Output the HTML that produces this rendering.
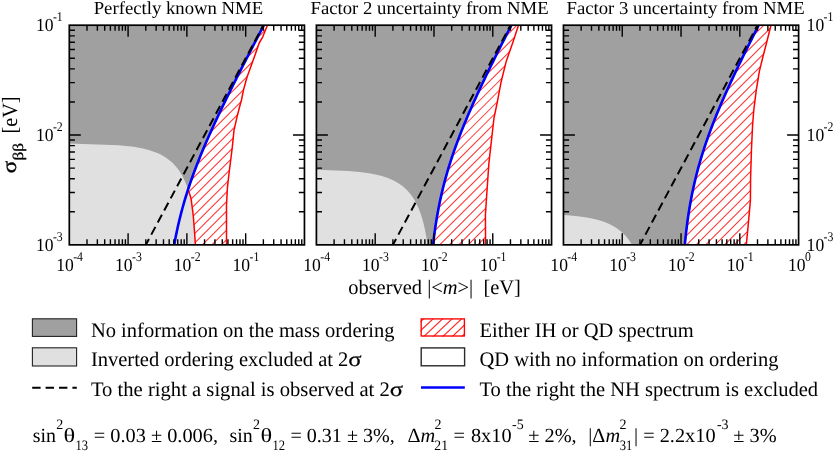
<!DOCTYPE html>
<html><head><meta charset="utf-8"><title>plot</title>
<style>
html,body{margin:0;padding:0;background:#fff;}
body{width:836px;height:452px;overflow:hidden;font-family:"Liberation Serif",serif;}
svg{display:block;text-rendering:geometricPrecision;will-change:transform;font-family:"Liberation Serif",serif;fill:#000;}
</style></head><body>
<svg width="836" height="452" viewBox="0 0 836 452">
<rect width="836" height="452" fill="#fff"/>
<defs>
<clipPath id="c0"><rect x="69.3" y="25.2" width="235.15" height="219.65"/></clipPath>
<clipPath id="c1"><rect x="316.4" y="25.2" width="235.15" height="219.65"/></clipPath>
<clipPath id="c2"><rect x="563.45" y="25.2" width="235.15" height="219.65"/></clipPath>
</defs>
<g clip-path="url(#c0)">
<path d="M69.3 25.2 L263.88 25.2 L261.97 28.86 L260.05 32.52 L258.14 36.18 L256.23 39.84 L254.32 43.5 L252.42 47.16 L250.53 50.83 L248.64 54.49 L246.75 58.15 L244.87 61.81 L243 65.47 L241.13 69.13 L239.27 72.79 L237.42 76.45 L235.57 80.11 L233.74 83.77 L231.91 87.43 L230.09 91.1 L228.29 94.76 L226.49 98.42 L224.71 102.08 L222.94 105.74 L221.18 109.4 L219.44 113.06 L217.71 116.72 L216 120.38 L214.3 124.04 L212.63 127.7 L210.97 131.36 L209.33 135.03 L207.71 138.69 L206.12 142.35 L204.55 146.01 L203 149.67 L201.48 153.33 L199.99 156.99 L198.52 160.65 L197.09 164.31 L195.68 167.97 L194.3 171.63 L192.96 175.29 L191.65 178.96 L190.37 182.62 L189.13 186.28 L187.92 189.94 L186.75 193.6 L185.61 197.26 L184.51 200.92 L183.45 204.58 L182.43 208.24 L181.44 211.9 L180.49 215.56 L179.58 219.22 L178.71 222.88 L177.87 226.55 L177.07 230.21 L176.3 233.87 L175.57 237.53 L174.88 241.19 L174.22 244.85 L69.3 244.85 Z" fill="#a0a0a0"/>
<path d="M69.3 143.49 L69.3 143.49 L118.35 145.18 L133.69 146.87 L142.93 148.56 L149.49 150.25 L154.55 151.94 L158.62 153.62 L162.03 155.31 L164.93 157 L167.45 158.69 L169.67 160.38 L171.64 162.07 L173.41 163.76 L175 165.45 L176.46 167.14 L177.79 168.83 L179 170.52 L180.13 172.21 L181.17 173.9 L182.13 175.59 L183.03 177.28 L183.87 178.97 L184.65 180.65 L185.39 182.34 L186.08 184.03 L186.73 185.72 L187.34 187.41 L187.91 189.1 L191 198 L193.2 215 L194.4 230 L195.4 244.85 L69.3 244.85 Z" fill="#e0e0e0"/>
<clipPath id="r0"><path d="M263.88 25.2 L261.97 28.86 L260.05 32.52 L258.14 36.18 L256.23 39.84 L254.32 43.5 L252.42 47.16 L250.53 50.83 L248.64 54.49 L246.75 58.15 L244.87 61.81 L243 65.47 L241.13 69.13 L239.27 72.79 L237.42 76.45 L235.57 80.11 L233.74 83.77 L231.91 87.43 L230.09 91.1 L228.29 94.76 L226.49 98.42 L224.71 102.08 L222.94 105.74 L221.18 109.4 L219.44 113.06 L217.71 116.72 L216 120.38 L214.3 124.04 L212.63 127.7 L210.97 131.36 L209.33 135.03 L207.71 138.69 L206.12 142.35 L204.55 146.01 L203 149.67 L201.48 153.33 L199.99 156.99 L198.52 160.65 L197.09 164.31 L195.68 167.97 L194.3 171.63 L192.96 175.29 L191.65 178.96 L190.37 182.62 L189.13 186.28 L188.2 189.94 L189.47 193.6 L190.74 197.26 L191.38 200.92 L191.85 204.58 L192.33 208.24 L192.8 211.9 L193.25 215.56 L193.54 219.22 L193.83 222.88 L194.12 226.55 L194.41 230.21 L194.66 233.87 L194.91 237.53 L195.15 241.19 L195.4 244.85 L226.5 244.85 L226.5 205.4 L227.4 187.7 L229.2 172 L232.2 148.1 L234 130.4 L237.2 116.2 L240.4 103.8 L241.5 100 L243.3 90.8 L246.9 77.5 L252.7 61.6 L259.2 43 L262.8 36.8 L267.4 25.2 Z"/></clipPath>
<path d="M263.88 25.2 L261.97 28.86 L260.05 32.52 L258.14 36.18 L256.23 39.84 L254.32 43.5 L252.42 47.16 L250.53 50.83 L248.64 54.49 L246.75 58.15 L244.87 61.81 L243 65.47 L241.13 69.13 L239.27 72.79 L237.42 76.45 L235.57 80.11 L233.74 83.77 L231.91 87.43 L230.09 91.1 L228.29 94.76 L226.49 98.42 L224.71 102.08 L222.94 105.74 L221.18 109.4 L219.44 113.06 L217.71 116.72 L216 120.38 L214.3 124.04 L212.63 127.7 L210.97 131.36 L209.33 135.03 L207.71 138.69 L206.12 142.35 L204.55 146.01 L203 149.67 L201.48 153.33 L199.99 156.99 L198.52 160.65 L197.09 164.31 L195.68 167.97 L194.3 171.63 L192.96 175.29 L191.65 178.96 L190.37 182.62 L189.13 186.28 L188.2 189.94 L189.47 193.6 L190.74 197.26 L191.38 200.92 L191.85 204.58 L192.33 208.24 L192.8 211.9 L193.25 215.56 L193.54 219.22 L193.83 222.88 L194.12 226.55 L194.41 230.21 L194.66 233.87 L194.91 237.53 L195.15 241.19 L195.4 244.85 L226.5 244.85 L226.5 205.4 L227.4 187.7 L229.2 172 L232.2 148.1 L234 130.4 L237.2 116.2 L240.4 103.8 L241.5 100 L243.3 90.8 L246.9 77.5 L252.7 61.6 L259.2 43 L262.8 36.8 L267.4 25.2 Z" fill="#fff"/>
<path d="M69.3 17.09 L304.45 -218.06 M69.3 26.58 L304.45 -208.56 M69.3 36.08 L304.45 -199.07 M69.3 45.58 L304.45 -189.57 M69.3 55.07 L304.45 -180.08 M69.3 64.57 L304.45 -170.58 M69.3 74.06 L304.45 -161.09 M69.3 83.56 L304.45 -151.59 M69.3 93.05 L304.45 -142.1 M69.3 102.55 L304.45 -132.6 M69.3 112.04 L304.45 -123.11 M69.3 121.54 L304.45 -113.61 M69.3 131.03 L304.45 -104.12 M69.3 140.53 L304.45 -94.62 M69.3 150.02 L304.45 -85.13 M69.3 159.51 L304.45 -75.63 M69.3 169.01 L304.45 -66.14 M69.3 178.5 L304.45 -56.64 M69.3 188 L304.45 -47.15 M69.3 197.5 L304.45 -37.65 M69.3 206.99 L304.45 -28.16 M69.3 216.48 L304.45 -18.67 M69.3 225.98 L304.45 -9.17 M69.3 235.47 L304.45 0.32 M69.3 244.97 L304.45 9.82 M69.3 254.46 L304.45 19.31 M69.3 263.96 L304.45 28.81 M69.3 273.45 L304.45 38.31 M69.3 282.95 L304.45 47.8 M69.3 292.44 L304.45 57.3 M69.3 301.94 L304.45 66.79 M69.3 311.44 L304.45 76.29 M69.3 320.93 L304.45 85.78 M69.3 330.43 L304.45 95.28 M69.3 339.92 L304.45 104.77 M69.3 349.41 L304.45 114.26 M69.3 358.91 L304.45 123.76 M69.3 368.4 L304.45 133.25 M69.3 377.9 L304.45 142.75 M69.3 387.39 L304.45 152.25 M69.3 396.89 L304.45 161.74 M69.3 406.38 L304.45 171.24 M69.3 415.88 L304.45 180.73 M69.3 425.37 L304.45 190.22 M69.3 434.87 L304.45 199.72 M69.3 444.36 L304.45 209.21 M69.3 453.86 L304.45 218.71 M69.3 463.35 L304.45 228.2 M69.3 472.85 L304.45 237.7 M69.3 482.34 L304.45 247.19" stroke="#ff0000" stroke-width="1.05" stroke-opacity="0.8" fill="none" clip-path="url(#r0)"/>
<path d="M263.88 25.2 L261.97 28.86 L260.05 32.52 L258.14 36.18 L256.23 39.84 L254.32 43.5 L252.42 47.16 L250.53 50.83 L248.64 54.49 L246.75 58.15 L244.87 61.81 L243 65.47 L241.13 69.13 L239.27 72.79 L237.42 76.45 L235.57 80.11 L233.74 83.77 L231.91 87.43 L230.09 91.1 L228.29 94.76 L226.49 98.42 L224.71 102.08 L222.94 105.74 L221.18 109.4 L219.44 113.06 L217.71 116.72 L216 120.38 L214.3 124.04 L212.63 127.7 L210.97 131.36 L209.33 135.03 L207.71 138.69 L206.12 142.35 L204.55 146.01 L203 149.67 L201.48 153.33 L199.99 156.99 L198.52 160.65 L197.09 164.31 L195.68 167.97 L194.3 171.63 L192.96 175.29 L191.65 178.96 L190.37 182.62 L189.13 186.28 L188.2 189.94 L189.47 193.6 L190.74 197.26 L191.38 200.92 L191.85 204.58 L192.33 208.24 L192.8 211.9 L193.25 215.56 L193.54 219.22 L193.83 222.88 L194.12 226.55 L194.41 230.21 L194.66 233.87 L194.91 237.53 L195.15 241.19 L195.4 244.85 L226.5 244.85 L226.5 205.4 L227.4 187.7 L229.2 172 L232.2 148.1 L234 130.4 L237.2 116.2 L240.4 103.8 L241.5 100 L243.3 90.8 L246.9 77.5 L252.7 61.6 L259.2 43 L262.8 36.8 L267.4 25.2 Z" stroke="#ff0000" stroke-width="1.5" fill="none" stroke-linejoin="round"/>
<path d="M263.88 25.2 L261.97 28.86 L260.05 32.52 L258.14 36.18 L256.23 39.84 L254.32 43.5 L252.42 47.16 L250.53 50.83 L248.64 54.49 L246.75 58.15 L244.87 61.81 L243 65.47 L241.13 69.13 L239.27 72.79 L237.42 76.45 L235.57 80.11 L233.74 83.77 L231.91 87.43 L230.09 91.1 L228.29 94.76 L226.49 98.42 L224.71 102.08 L222.94 105.74 L221.18 109.4 L219.44 113.06 L217.71 116.72 L216 120.38 L214.3 124.04 L212.63 127.7 L210.97 131.36 L209.33 135.03 L207.71 138.69 L206.12 142.35 L204.55 146.01 L203 149.67 L201.48 153.33 L199.99 156.99 L198.52 160.65 L197.09 164.31 L195.68 167.97 L194.3 171.63 L192.96 175.29 L191.65 178.96 L190.37 182.62 L189.13 186.28 L187.92 189.94 L186.75 193.6 L185.61 197.26 L184.51 200.92 L183.45 204.58 L182.43 208.24 L181.44 211.9 L180.49 215.56 L179.58 219.22 L178.71 222.88 L177.87 226.55 L177.07 230.21 L176.3 233.87 L175.57 237.53 L174.88 241.19 L174.22 244.85" stroke="#0000ff" stroke-width="2.6" fill="none"/>
<path d="M145.79 244.85 L263.37 25.2" stroke="#000" stroke-width="2" stroke-dasharray="8.8 4.9" stroke-dashoffset="2.1" fill="none"/>
</g>
<path d="M87 25.2 v5.6 M87 244.85 v-5.6 M97.35 25.2 v5.6 M97.35 244.85 v-5.6 M104.7 25.2 v5.6 M104.7 244.85 v-5.6 M110.39 25.2 v5.6 M110.39 244.85 v-5.6 M115.05 25.2 v5.6 M115.05 244.85 v-5.6 M118.98 25.2 v5.6 M118.98 244.85 v-5.6 M122.39 25.2 v5.6 M122.39 244.85 v-5.6 M125.4 25.2 v5.6 M125.4 244.85 v-5.6 M128.09 25.2 v11.5 M128.09 244.85 v-11.5 M145.79 25.2 v5.6 M145.79 244.85 v-5.6 M156.14 25.2 v5.6 M156.14 244.85 v-5.6 M163.49 25.2 v5.6 M163.49 244.85 v-5.6 M169.18 25.2 v5.6 M169.18 244.85 v-5.6 M173.84 25.2 v5.6 M173.84 244.85 v-5.6 M177.77 25.2 v5.6 M177.77 244.85 v-5.6 M181.18 25.2 v5.6 M181.18 244.85 v-5.6 M184.19 25.2 v5.6 M184.19 244.85 v-5.6 M186.88 25.2 v11.5 M186.88 244.85 v-11.5 M204.58 25.2 v5.6 M204.58 244.85 v-5.6 M214.93 25.2 v5.6 M214.93 244.85 v-5.6 M222.28 25.2 v5.6 M222.28 244.85 v-5.6 M227.97 25.2 v5.6 M227.97 244.85 v-5.6 M232.63 25.2 v5.6 M232.63 244.85 v-5.6 M236.56 25.2 v5.6 M236.56 244.85 v-5.6 M239.97 25.2 v5.6 M239.97 244.85 v-5.6 M242.98 25.2 v5.6 M242.98 244.85 v-5.6 M245.67 25.2 v11.5 M245.67 244.85 v-11.5 M263.37 25.2 v5.6 M263.37 244.85 v-5.6 M273.72 25.2 v5.6 M273.72 244.85 v-5.6 M281.07 25.2 v5.6 M281.07 244.85 v-5.6 M286.76 25.2 v5.6 M286.76 244.85 v-5.6 M291.42 25.2 v5.6 M291.42 244.85 v-5.6 M295.35 25.2 v5.6 M295.35 244.85 v-5.6 M298.76 25.2 v5.6 M298.76 244.85 v-5.6 M301.77 25.2 v5.6 M301.77 244.85 v-5.6 M69.3 211.79 h5.6 M304.45 211.79 h-5.6 M69.3 192.45 h5.6 M304.45 192.45 h-5.6 M69.3 178.73 h5.6 M304.45 178.73 h-5.6 M69.3 168.08 h5.6 M304.45 168.08 h-5.6 M69.3 159.39 h5.6 M304.45 159.39 h-5.6 M69.3 152.03 h5.6 M304.45 152.03 h-5.6 M69.3 145.66 h5.6 M304.45 145.66 h-5.6 M69.3 140.05 h5.6 M304.45 140.05 h-5.6 M69.3 135.02 h11.5 M304.45 135.02 h-11.5 M69.3 101.96 h5.6 M304.45 101.96 h-5.6 M69.3 82.62 h5.6 M304.45 82.62 h-5.6 M69.3 68.9 h5.6 M304.45 68.9 h-5.6 M69.3 58.25 h5.6 M304.45 58.25 h-5.6 M69.3 49.56 h5.6 M304.45 49.56 h-5.6 M69.3 42.2 h5.6 M304.45 42.2 h-5.6 M69.3 35.83 h5.6 M304.45 35.83 h-5.6 M69.3 30.22 h5.6 M304.45 30.22 h-5.6" stroke="#000" stroke-width="1.4" fill="none"/>
<rect x="69.3" y="25.2" width="235.15" height="219.65" fill="none" stroke="#000" stroke-width="1.7"/>
<g clip-path="url(#c1)">
<path d="M316.4 25.2 L511.43 25.2 L509.54 28.86 L507.66 32.52 L505.79 36.18 L503.92 39.84 L502.06 43.5 L500.21 47.16 L498.37 50.83 L496.53 54.49 L494.71 58.15 L492.89 61.81 L491.09 65.47 L489.29 69.13 L487.51 72.79 L485.74 76.45 L483.99 80.11 L482.25 83.77 L480.52 87.43 L478.81 91.1 L477.12 94.76 L475.45 98.42 L473.79 102.08 L472.16 105.74 L470.55 109.4 L468.96 113.06 L467.39 116.72 L465.85 120.38 L464.33 124.04 L462.84 127.7 L461.38 131.36 L459.95 135.03 L458.55 138.69 L457.18 142.35 L455.84 146.01 L454.53 149.67 L453.26 153.33 L452.02 156.99 L450.82 160.65 L449.65 164.31 L448.52 167.97 L447.43 171.63 L446.37 175.29 L445.36 178.96 L444.37 182.62 L443.43 186.28 L442.53 189.94 L441.66 193.6 L440.83 197.26 L440.03 200.92 L439.27 204.58 L438.55 208.24 L437.86 211.9 L437.21 215.56 L436.58 219.22 L435.99 222.88 L435.43 226.55 L434.91 230.21 L434.41 233.87 L433.93 237.53 L433.49 241.19 L433.07 244.85 L316.4 244.85 Z" fill="#a0a0a0"/>
<path d="M316.4 169.69 L316.4 169.69 L348.43 170.95 L361.92 172.2 L370.51 173.45 L376.78 174.7 L381.69 175.96 L385.71 177.21 L389.09 178.46 L392.01 179.71 L394.56 180.97 L396.82 182.22 L398.85 183.47 L400.68 184.72 L402.35 185.98 L403.87 187.23 L405.27 188.48 L406.57 189.73 L407.77 190.99 L408.89 192.24 L409.93 193.49 L410.91 194.75 L411.83 196 L412.69 197.25 L413.5 198.5 L414.27 199.76 L415 201.01 L415.69 202.26 L416.34 203.51 L416.96 204.77 L417.55 206.02 L418.11 207.27 L418.65 208.52 L419.16 209.78 L419.65 211.03 L420.12 212.28 L420.56 213.53 L420.99 214.79 L421.4 216.04 L421.8 217.29 L422.17 218.54 L422.54 219.8 L422.88 221.05 L423.22 222.3 L423.54 223.56 L423.85 224.81 L424.15 226.06 L424.43 227.31 L424.71 228.57 L424.98 229.82 L425.23 231.07 L425.48 232.32 L425.72 233.58 L425.95 234.83 L426.17 236.08 L426.39 237.33 L426.6 238.59 L426.8 239.84 L426.99 241.09 L427.18 242.34 L427.36 243.6 L427.54 244.85 L316.4 244.85 Z" fill="#e0e0e0"/>
<clipPath id="r1"><path d="M511.43 25.2 L509.54 28.86 L507.66 32.52 L505.79 36.18 L503.92 39.84 L502.06 43.5 L500.21 47.16 L498.37 50.83 L496.53 54.49 L494.71 58.15 L492.89 61.81 L491.09 65.47 L489.29 69.13 L487.51 72.79 L485.74 76.45 L483.99 80.11 L482.25 83.77 L480.52 87.43 L478.81 91.1 L477.12 94.76 L475.45 98.42 L473.79 102.08 L472.16 105.74 L470.55 109.4 L468.96 113.06 L467.39 116.72 L465.85 120.38 L464.33 124.04 L462.84 127.7 L461.38 131.36 L459.95 135.03 L458.55 138.69 L457.18 142.35 L455.84 146.01 L454.53 149.67 L453.26 153.33 L452.02 156.99 L450.82 160.65 L449.65 164.31 L448.52 167.97 L447.43 171.63 L446.37 175.29 L445.36 178.96 L444.37 182.62 L443.43 186.28 L442.53 189.94 L441.66 193.6 L440.83 197.26 L440.03 200.92 L439.27 204.58 L438.55 208.24 L437.86 211.9 L437.21 215.56 L436.58 219.22 L435.99 222.88 L435.43 226.55 L434.91 230.21 L434.41 233.87 L433.93 237.53 L433.49 241.19 L433.07 244.85 L485.6 244.85 L485.4 215 L486.9 192 L488.9 163.2 L491.8 137.3 L494 118 L497.2 102.7 L500.8 83.3 L506.2 61.4 L513 41.9 L518.5 25.2 Z"/></clipPath>
<path d="M511.43 25.2 L509.54 28.86 L507.66 32.52 L505.79 36.18 L503.92 39.84 L502.06 43.5 L500.21 47.16 L498.37 50.83 L496.53 54.49 L494.71 58.15 L492.89 61.81 L491.09 65.47 L489.29 69.13 L487.51 72.79 L485.74 76.45 L483.99 80.11 L482.25 83.77 L480.52 87.43 L478.81 91.1 L477.12 94.76 L475.45 98.42 L473.79 102.08 L472.16 105.74 L470.55 109.4 L468.96 113.06 L467.39 116.72 L465.85 120.38 L464.33 124.04 L462.84 127.7 L461.38 131.36 L459.95 135.03 L458.55 138.69 L457.18 142.35 L455.84 146.01 L454.53 149.67 L453.26 153.33 L452.02 156.99 L450.82 160.65 L449.65 164.31 L448.52 167.97 L447.43 171.63 L446.37 175.29 L445.36 178.96 L444.37 182.62 L443.43 186.28 L442.53 189.94 L441.66 193.6 L440.83 197.26 L440.03 200.92 L439.27 204.58 L438.55 208.24 L437.86 211.9 L437.21 215.56 L436.58 219.22 L435.99 222.88 L435.43 226.55 L434.91 230.21 L434.41 233.87 L433.93 237.53 L433.49 241.19 L433.07 244.85 L485.6 244.85 L485.4 215 L486.9 192 L488.9 163.2 L491.8 137.3 L494 118 L497.2 102.7 L500.8 83.3 L506.2 61.4 L513 41.9 L518.5 25.2 Z" fill="#fff"/>
<path d="M316.4 16.86 L551.55 -218.29 M316.4 26.36 L551.55 -208.79 M316.4 35.85 L551.55 -199.3 M316.4 45.35 L551.55 -189.8 M316.4 54.84 L551.55 -180.31 M316.4 64.34 L551.55 -170.81 M316.4 73.83 L551.55 -161.32 M316.4 83.33 L551.55 -151.82 M316.4 92.82 L551.55 -142.33 M316.4 102.31 L551.55 -132.83 M316.4 111.81 L551.55 -123.34 M316.4 121.31 L551.55 -113.84 M316.4 130.8 L551.55 -104.35 M316.4 140.3 L551.55 -94.85 M316.4 149.79 L551.55 -85.36 M316.4 159.29 L551.55 -75.86 M316.4 168.78 L551.55 -66.37 M316.4 178.27 L551.55 -56.88 M316.4 187.77 L551.55 -47.38 M316.4 197.26 L551.55 -37.88 M316.4 206.76 L551.55 -28.39 M316.4 216.25 L551.55 -18.89 M316.4 225.75 L551.55 -9.4 M316.4 235.25 L551.55 0.1 M316.4 244.74 L551.55 9.59 M316.4 254.24 L551.55 19.09 M316.4 263.73 L551.55 28.58 M316.4 273.23 L551.55 38.08 M316.4 282.72 L551.55 47.57 M316.4 292.22 L551.55 57.07 M316.4 301.71 L551.55 66.56 M316.4 311.21 L551.55 76.06 M316.4 320.7 L551.55 85.55 M316.4 330.2 L551.55 95.05 M316.4 339.69 L551.55 104.54 M316.4 349.19 L551.55 114.04 M316.4 358.68 L551.55 123.53 M316.4 368.17 L551.55 133.02 M316.4 377.67 L551.55 142.52 M316.4 387.16 L551.55 152.01 M316.4 396.66 L551.55 161.51 M316.4 406.15 L551.55 171 M316.4 415.65 L551.55 180.5 M316.4 425.14 L551.55 190 M316.4 434.64 L551.55 199.49 M316.4 444.13 L551.55 208.99 M316.4 453.63 L551.55 218.48 M316.4 463.12 L551.55 227.98 M316.4 472.62 L551.55 237.47 M316.4 482.12 L551.55 246.97" stroke="#ff0000" stroke-width="1.05" stroke-opacity="0.8" fill="none" clip-path="url(#r1)"/>
<path d="M511.43 25.2 L509.54 28.86 L507.66 32.52 L505.79 36.18 L503.92 39.84 L502.06 43.5 L500.21 47.16 L498.37 50.83 L496.53 54.49 L494.71 58.15 L492.89 61.81 L491.09 65.47 L489.29 69.13 L487.51 72.79 L485.74 76.45 L483.99 80.11 L482.25 83.77 L480.52 87.43 L478.81 91.1 L477.12 94.76 L475.45 98.42 L473.79 102.08 L472.16 105.74 L470.55 109.4 L468.96 113.06 L467.39 116.72 L465.85 120.38 L464.33 124.04 L462.84 127.7 L461.38 131.36 L459.95 135.03 L458.55 138.69 L457.18 142.35 L455.84 146.01 L454.53 149.67 L453.26 153.33 L452.02 156.99 L450.82 160.65 L449.65 164.31 L448.52 167.97 L447.43 171.63 L446.37 175.29 L445.36 178.96 L444.37 182.62 L443.43 186.28 L442.53 189.94 L441.66 193.6 L440.83 197.26 L440.03 200.92 L439.27 204.58 L438.55 208.24 L437.86 211.9 L437.21 215.56 L436.58 219.22 L435.99 222.88 L435.43 226.55 L434.91 230.21 L434.41 233.87 L433.93 237.53 L433.49 241.19 L433.07 244.85 L485.6 244.85 L485.4 215 L486.9 192 L488.9 163.2 L491.8 137.3 L494 118 L497.2 102.7 L500.8 83.3 L506.2 61.4 L513 41.9 L518.5 25.2 Z" stroke="#ff0000" stroke-width="1.5" fill="none" stroke-linejoin="round"/>
<path d="M511.43 25.2 L509.54 28.86 L507.66 32.52 L505.79 36.18 L503.92 39.84 L502.06 43.5 L500.21 47.16 L498.37 50.83 L496.53 54.49 L494.71 58.15 L492.89 61.81 L491.09 65.47 L489.29 69.13 L487.51 72.79 L485.74 76.45 L483.99 80.11 L482.25 83.77 L480.52 87.43 L478.81 91.1 L477.12 94.76 L475.45 98.42 L473.79 102.08 L472.16 105.74 L470.55 109.4 L468.96 113.06 L467.39 116.72 L465.85 120.38 L464.33 124.04 L462.84 127.7 L461.38 131.36 L459.95 135.03 L458.55 138.69 L457.18 142.35 L455.84 146.01 L454.53 149.67 L453.26 153.33 L452.02 156.99 L450.82 160.65 L449.65 164.31 L448.52 167.97 L447.43 171.63 L446.37 175.29 L445.36 178.96 L444.37 182.62 L443.43 186.28 L442.53 189.94 L441.66 193.6 L440.83 197.26 L440.03 200.92 L439.27 204.58 L438.55 208.24 L437.86 211.9 L437.21 215.56 L436.58 219.22 L435.99 222.88 L435.43 226.55 L434.91 230.21 L434.41 233.87 L433.93 237.53 L433.49 241.19 L433.07 244.85" stroke="#0000ff" stroke-width="2.6" fill="none"/>
<path d="M392.89 244.85 L510.47 25.2" stroke="#000" stroke-width="2" stroke-dasharray="8.8 4.9" stroke-dashoffset="2.1" fill="none"/>
</g>
<path d="M334.1 25.2 v5.6 M334.1 244.85 v-5.6 M344.45 25.2 v5.6 M344.45 244.85 v-5.6 M351.8 25.2 v5.6 M351.8 244.85 v-5.6 M357.49 25.2 v5.6 M357.49 244.85 v-5.6 M362.15 25.2 v5.6 M362.15 244.85 v-5.6 M366.08 25.2 v5.6 M366.08 244.85 v-5.6 M369.49 25.2 v5.6 M369.49 244.85 v-5.6 M372.5 25.2 v5.6 M372.5 244.85 v-5.6 M375.19 25.2 v11.5 M375.19 244.85 v-11.5 M392.89 25.2 v5.6 M392.89 244.85 v-5.6 M403.24 25.2 v5.6 M403.24 244.85 v-5.6 M410.59 25.2 v5.6 M410.59 244.85 v-5.6 M416.28 25.2 v5.6 M416.28 244.85 v-5.6 M420.94 25.2 v5.6 M420.94 244.85 v-5.6 M424.87 25.2 v5.6 M424.87 244.85 v-5.6 M428.28 25.2 v5.6 M428.28 244.85 v-5.6 M431.29 25.2 v5.6 M431.29 244.85 v-5.6 M433.98 25.2 v11.5 M433.98 244.85 v-11.5 M451.68 25.2 v5.6 M451.68 244.85 v-5.6 M462.03 25.2 v5.6 M462.03 244.85 v-5.6 M469.38 25.2 v5.6 M469.38 244.85 v-5.6 M475.07 25.2 v5.6 M475.07 244.85 v-5.6 M479.73 25.2 v5.6 M479.73 244.85 v-5.6 M483.66 25.2 v5.6 M483.66 244.85 v-5.6 M487.07 25.2 v5.6 M487.07 244.85 v-5.6 M490.08 25.2 v5.6 M490.08 244.85 v-5.6 M492.77 25.2 v11.5 M492.77 244.85 v-11.5 M510.47 25.2 v5.6 M510.47 244.85 v-5.6 M520.82 25.2 v5.6 M520.82 244.85 v-5.6 M528.17 25.2 v5.6 M528.17 244.85 v-5.6 M533.86 25.2 v5.6 M533.86 244.85 v-5.6 M538.52 25.2 v5.6 M538.52 244.85 v-5.6 M542.45 25.2 v5.6 M542.45 244.85 v-5.6 M545.86 25.2 v5.6 M545.86 244.85 v-5.6 M548.87 25.2 v5.6 M548.87 244.85 v-5.6 M316.4 211.79 h5.6 M551.55 211.79 h-5.6 M316.4 192.45 h5.6 M551.55 192.45 h-5.6 M316.4 178.73 h5.6 M551.55 178.73 h-5.6 M316.4 168.08 h5.6 M551.55 168.08 h-5.6 M316.4 159.39 h5.6 M551.55 159.39 h-5.6 M316.4 152.03 h5.6 M551.55 152.03 h-5.6 M316.4 145.66 h5.6 M551.55 145.66 h-5.6 M316.4 140.05 h5.6 M551.55 140.05 h-5.6 M316.4 135.02 h11.5 M551.55 135.02 h-11.5 M316.4 101.96 h5.6 M551.55 101.96 h-5.6 M316.4 82.62 h5.6 M551.55 82.62 h-5.6 M316.4 68.9 h5.6 M551.55 68.9 h-5.6 M316.4 58.25 h5.6 M551.55 58.25 h-5.6 M316.4 49.56 h5.6 M551.55 49.56 h-5.6 M316.4 42.2 h5.6 M551.55 42.2 h-5.6 M316.4 35.83 h5.6 M551.55 35.83 h-5.6 M316.4 30.22 h5.6 M551.55 30.22 h-5.6" stroke="#000" stroke-width="1.4" fill="none"/>
<rect x="316.4" y="25.2" width="235.15" height="219.65" fill="none" stroke="#000" stroke-width="1.7"/>
<g clip-path="url(#c2)">
<path d="M563.45 25.2 L758.71 25.2 L756.85 28.86 L754.99 32.52 L753.14 36.18 L751.29 39.84 L749.46 43.5 L747.63 47.16 L745.82 50.83 L744.01 54.49 L742.22 58.15 L740.43 61.81 L738.66 65.47 L736.91 69.13 L735.17 72.79 L733.44 76.45 L731.73 80.11 L730.04 83.77 L728.36 87.43 L726.71 91.1 L725.07 94.76 L723.46 98.42 L721.87 102.08 L720.3 105.74 L718.76 109.4 L717.24 113.06 L715.75 116.72 L714.29 120.38 L712.86 124.04 L711.45 127.7 L710.08 131.36 L708.74 135.03 L707.43 138.69 L706.16 142.35 L704.92 146.01 L703.72 149.67 L702.55 153.33 L701.42 156.99 L700.32 160.65 L699.26 164.31 L698.24 167.97 L697.26 171.63 L696.32 175.29 L695.41 178.96 L694.54 182.62 L693.71 186.28 L692.91 189.94 L692.15 193.6 L691.43 197.26 L690.74 200.92 L690.08 204.58 L689.46 208.24 L688.86 211.9 L688.3 215.56 L687.77 219.22 L687.27 222.88 L686.8 226.55 L686.36 230.21 L685.94 233.87 L685.54 237.53 L685.17 241.19 L684.82 244.85 L563.45 244.85 Z" fill="#a0a0a0"/>
<path d="M563.45 214.93 L563.45 214.93 L570.22 215.43 L575.52 215.92 L579.86 216.42 L583.53 216.92 L586.71 217.42 L589.51 217.92 L592.01 218.42 L594.26 218.92 L596.31 219.42 L598.19 219.91 L599.92 220.41 L601.53 220.91 L603.02 221.41 L604.42 221.91 L605.73 222.41 L606.97 222.91 L608.13 223.41 L609.24 223.9 L610.28 224.4 L611.28 224.9 L612.23 225.4 L613.13 225.9 L614 226.4 L614.83 226.9 L615.62 227.4 L616.38 227.89 L617.12 228.39 L617.82 228.89 L618.5 229.39 L619.15 229.89 L619.79 230.39 L620.4 230.89 L620.99 231.38 L621.56 231.88 L622.11 232.38 L622.64 232.88 L623.16 233.38 L623.66 233.88 L624.15 234.38 L624.63 234.88 L625.09 235.37 L625.54 235.87 L625.97 236.37 L626.4 236.87 L626.81 237.37 L627.21 237.87 L627.6 238.37 L627.98 238.87 L628.35 239.36 L628.72 239.86 L629.07 240.36 L629.42 240.86 L629.76 241.36 L630.09 241.86 L630.41 242.36 L630.72 242.86 L631.03 243.35 L631.33 243.85 L631.63 244.35 L631.91 244.85 L563.45 244.85 Z" fill="#e0e0e0"/>
<clipPath id="r2"><path d="M758.71 25.2 L756.85 28.86 L754.99 32.52 L753.14 36.18 L751.29 39.84 L749.46 43.5 L747.63 47.16 L745.82 50.83 L744.01 54.49 L742.22 58.15 L740.43 61.81 L738.66 65.47 L736.91 69.13 L735.17 72.79 L733.44 76.45 L731.73 80.11 L730.04 83.77 L728.36 87.43 L726.71 91.1 L725.07 94.76 L723.46 98.42 L721.87 102.08 L720.3 105.74 L718.76 109.4 L717.24 113.06 L715.75 116.72 L714.29 120.38 L712.86 124.04 L711.45 127.7 L710.08 131.36 L708.74 135.03 L707.43 138.69 L706.16 142.35 L704.92 146.01 L703.72 149.67 L702.55 153.33 L701.42 156.99 L700.32 160.65 L699.26 164.31 L698.24 167.97 L697.26 171.63 L696.32 175.29 L695.41 178.96 L694.54 182.62 L693.71 186.28 L692.91 189.94 L692.15 193.6 L691.43 197.26 L690.74 200.92 L690.08 204.58 L689.46 208.24 L688.86 211.9 L688.3 215.56 L687.77 219.22 L687.27 222.88 L686.8 226.55 L686.36 230.21 L685.94 233.87 L685.54 237.53 L685.17 241.19 L684.82 244.85 L746.3 244.85 L747.8 229.4 L750.4 200.6 L750.6 177.6 L751.5 148.8 L752.6 125 L753.8 110 L756.2 90.6 L759.4 71.1 L763 56.5 L767.4 39.5 L771 25.2 Z"/></clipPath>
<path d="M758.71 25.2 L756.85 28.86 L754.99 32.52 L753.14 36.18 L751.29 39.84 L749.46 43.5 L747.63 47.16 L745.82 50.83 L744.01 54.49 L742.22 58.15 L740.43 61.81 L738.66 65.47 L736.91 69.13 L735.17 72.79 L733.44 76.45 L731.73 80.11 L730.04 83.77 L728.36 87.43 L726.71 91.1 L725.07 94.76 L723.46 98.42 L721.87 102.08 L720.3 105.74 L718.76 109.4 L717.24 113.06 L715.75 116.72 L714.29 120.38 L712.86 124.04 L711.45 127.7 L710.08 131.36 L708.74 135.03 L707.43 138.69 L706.16 142.35 L704.92 146.01 L703.72 149.67 L702.55 153.33 L701.42 156.99 L700.32 160.65 L699.26 164.31 L698.24 167.97 L697.26 171.63 L696.32 175.29 L695.41 178.96 L694.54 182.62 L693.71 186.28 L692.91 189.94 L692.15 193.6 L691.43 197.26 L690.74 200.92 L690.08 204.58 L689.46 208.24 L688.86 211.9 L688.3 215.56 L687.77 219.22 L687.27 222.88 L686.8 226.55 L686.36 230.21 L685.94 233.87 L685.54 237.53 L685.17 241.19 L684.82 244.85 L746.3 244.85 L747.8 229.4 L750.4 200.6 L750.6 177.6 L751.5 148.8 L752.6 125 L753.8 110 L756.2 90.6 L759.4 71.1 L763 56.5 L767.4 39.5 L771 25.2 Z" fill="#fff"/>
<path d="M563.45 7.18 L798.6 -227.97 M563.45 16.68 L798.6 -218.47 M563.45 26.17 L798.6 -208.98 M563.45 35.67 L798.6 -199.48 M563.45 45.16 L798.6 -189.99 M563.45 54.66 L798.6 -180.49 M563.45 64.15 L798.6 -171 M563.45 73.65 L798.6 -161.5 M563.45 83.14 L798.6 -152 M563.45 92.64 L798.6 -142.51 M563.45 102.13 L798.6 -133.01 M563.45 111.63 L798.6 -123.52 M563.45 121.12 L798.6 -114.03 M563.45 130.62 L798.6 -104.53 M563.45 140.11 L798.6 -95.04 M563.45 149.61 L798.6 -85.54 M563.45 159.1 L798.6 -76.05 M563.45 168.6 L798.6 -66.55 M563.45 178.09 L798.6 -57.06 M563.45 187.59 L798.6 -47.56 M563.45 197.08 L798.6 -38.07 M563.45 206.58 L798.6 -28.57 M563.45 216.07 L798.6 -19.08 M563.45 225.57 L798.6 -9.58 M563.45 235.06 L798.6 -0.09 M563.45 244.56 L798.6 9.41 M563.45 254.05 L798.6 18.9 M563.45 263.55 L798.6 28.4 M563.45 273.04 L798.6 37.89 M563.45 282.54 L798.6 47.39 M563.45 292.03 L798.6 56.88 M563.45 301.53 L798.6 66.38 M563.45 311.02 L798.6 75.87 M563.45 320.52 L798.6 85.37 M563.45 330.01 L798.6 94.86 M563.45 339.51 L798.6 104.36 M563.45 349 L798.6 113.85 M563.45 358.5 L798.6 123.35 M563.45 367.99 L798.6 132.84 M563.45 377.49 L798.6 142.34 M563.45 386.98 L798.6 151.83 M563.45 396.48 L798.6 161.33 M563.45 405.97 L798.6 170.82 M563.45 415.47 L798.6 180.32 M563.45 424.96 L798.6 189.81 M563.45 434.46 L798.6 199.31 M563.45 443.95 L798.6 208.8 M563.45 453.45 L798.6 218.3 M563.45 462.94 L798.6 227.79 M563.45 472.44 L798.6 237.29 M563.45 481.93 L798.6 246.78" stroke="#ff0000" stroke-width="1.05" stroke-opacity="0.8" fill="none" clip-path="url(#r2)"/>
<path d="M758.71 25.2 L756.85 28.86 L754.99 32.52 L753.14 36.18 L751.29 39.84 L749.46 43.5 L747.63 47.16 L745.82 50.83 L744.01 54.49 L742.22 58.15 L740.43 61.81 L738.66 65.47 L736.91 69.13 L735.17 72.79 L733.44 76.45 L731.73 80.11 L730.04 83.77 L728.36 87.43 L726.71 91.1 L725.07 94.76 L723.46 98.42 L721.87 102.08 L720.3 105.74 L718.76 109.4 L717.24 113.06 L715.75 116.72 L714.29 120.38 L712.86 124.04 L711.45 127.7 L710.08 131.36 L708.74 135.03 L707.43 138.69 L706.16 142.35 L704.92 146.01 L703.72 149.67 L702.55 153.33 L701.42 156.99 L700.32 160.65 L699.26 164.31 L698.24 167.97 L697.26 171.63 L696.32 175.29 L695.41 178.96 L694.54 182.62 L693.71 186.28 L692.91 189.94 L692.15 193.6 L691.43 197.26 L690.74 200.92 L690.08 204.58 L689.46 208.24 L688.86 211.9 L688.3 215.56 L687.77 219.22 L687.27 222.88 L686.8 226.55 L686.36 230.21 L685.94 233.87 L685.54 237.53 L685.17 241.19 L684.82 244.85 L746.3 244.85 L747.8 229.4 L750.4 200.6 L750.6 177.6 L751.5 148.8 L752.6 125 L753.8 110 L756.2 90.6 L759.4 71.1 L763 56.5 L767.4 39.5 L771 25.2 Z" stroke="#ff0000" stroke-width="1.5" fill="none" stroke-linejoin="round"/>
<path d="M758.71 25.2 L756.85 28.86 L754.99 32.52 L753.14 36.18 L751.29 39.84 L749.46 43.5 L747.63 47.16 L745.82 50.83 L744.01 54.49 L742.22 58.15 L740.43 61.81 L738.66 65.47 L736.91 69.13 L735.17 72.79 L733.44 76.45 L731.73 80.11 L730.04 83.77 L728.36 87.43 L726.71 91.1 L725.07 94.76 L723.46 98.42 L721.87 102.08 L720.3 105.74 L718.76 109.4 L717.24 113.06 L715.75 116.72 L714.29 120.38 L712.86 124.04 L711.45 127.7 L710.08 131.36 L708.74 135.03 L707.43 138.69 L706.16 142.35 L704.92 146.01 L703.72 149.67 L702.55 153.33 L701.42 156.99 L700.32 160.65 L699.26 164.31 L698.24 167.97 L697.26 171.63 L696.32 175.29 L695.41 178.96 L694.54 182.62 L693.71 186.28 L692.91 189.94 L692.15 193.6 L691.43 197.26 L690.74 200.92 L690.08 204.58 L689.46 208.24 L688.86 211.9 L688.3 215.56 L687.77 219.22 L687.27 222.88 L686.8 226.55 L686.36 230.21 L685.94 233.87 L685.54 237.53 L685.17 241.19 L684.82 244.85" stroke="#0000ff" stroke-width="2.6" fill="none"/>
<path d="M639.94 244.85 L757.52 25.2" stroke="#000" stroke-width="2" stroke-dasharray="8.8 4.9" stroke-dashoffset="2.1" fill="none"/>
</g>
<path d="M581.15 25.2 v5.6 M581.15 244.85 v-5.6 M591.5 25.2 v5.6 M591.5 244.85 v-5.6 M598.85 25.2 v5.6 M598.85 244.85 v-5.6 M604.54 25.2 v5.6 M604.54 244.85 v-5.6 M609.2 25.2 v5.6 M609.2 244.85 v-5.6 M613.13 25.2 v5.6 M613.13 244.85 v-5.6 M616.54 25.2 v5.6 M616.54 244.85 v-5.6 M619.55 25.2 v5.6 M619.55 244.85 v-5.6 M622.24 25.2 v11.5 M622.24 244.85 v-11.5 M639.94 25.2 v5.6 M639.94 244.85 v-5.6 M650.29 25.2 v5.6 M650.29 244.85 v-5.6 M657.64 25.2 v5.6 M657.64 244.85 v-5.6 M663.33 25.2 v5.6 M663.33 244.85 v-5.6 M667.99 25.2 v5.6 M667.99 244.85 v-5.6 M671.92 25.2 v5.6 M671.92 244.85 v-5.6 M675.33 25.2 v5.6 M675.33 244.85 v-5.6 M678.34 25.2 v5.6 M678.34 244.85 v-5.6 M681.03 25.2 v11.5 M681.03 244.85 v-11.5 M698.73 25.2 v5.6 M698.73 244.85 v-5.6 M709.08 25.2 v5.6 M709.08 244.85 v-5.6 M716.43 25.2 v5.6 M716.43 244.85 v-5.6 M722.12 25.2 v5.6 M722.12 244.85 v-5.6 M726.78 25.2 v5.6 M726.78 244.85 v-5.6 M730.71 25.2 v5.6 M730.71 244.85 v-5.6 M734.12 25.2 v5.6 M734.12 244.85 v-5.6 M737.13 25.2 v5.6 M737.13 244.85 v-5.6 M739.82 25.2 v11.5 M739.82 244.85 v-11.5 M757.52 25.2 v5.6 M757.52 244.85 v-5.6 M767.87 25.2 v5.6 M767.87 244.85 v-5.6 M775.22 25.2 v5.6 M775.22 244.85 v-5.6 M780.91 25.2 v5.6 M780.91 244.85 v-5.6 M785.57 25.2 v5.6 M785.57 244.85 v-5.6 M789.5 25.2 v5.6 M789.5 244.85 v-5.6 M792.91 25.2 v5.6 M792.91 244.85 v-5.6 M795.92 25.2 v5.6 M795.92 244.85 v-5.6 M563.45 211.79 h5.6 M798.6 211.79 h-5.6 M563.45 192.45 h5.6 M798.6 192.45 h-5.6 M563.45 178.73 h5.6 M798.6 178.73 h-5.6 M563.45 168.08 h5.6 M798.6 168.08 h-5.6 M563.45 159.39 h5.6 M798.6 159.39 h-5.6 M563.45 152.03 h5.6 M798.6 152.03 h-5.6 M563.45 145.66 h5.6 M798.6 145.66 h-5.6 M563.45 140.05 h5.6 M798.6 140.05 h-5.6 M563.45 135.02 h11.5 M798.6 135.02 h-11.5 M563.45 101.96 h5.6 M798.6 101.96 h-5.6 M563.45 82.62 h5.6 M798.6 82.62 h-5.6 M563.45 68.9 h5.6 M798.6 68.9 h-5.6 M563.45 58.25 h5.6 M798.6 58.25 h-5.6 M563.45 49.56 h5.6 M798.6 49.56 h-5.6 M563.45 42.2 h5.6 M798.6 42.2 h-5.6 M563.45 35.83 h5.6 M798.6 35.83 h-5.6 M563.45 30.22 h5.6 M798.6 30.22 h-5.6" stroke="#000" stroke-width="1.4" fill="none"/>
<rect x="563.45" y="25.2" width="235.15" height="219.65" fill="none" stroke="#000" stroke-width="1.7"/>
<g id="ticklabels">
<text transform="translate(56.2 271.25) scale(0.955 1)" font-size="18.4">10</text><text transform="translate(73.2 261.25) scale(0.88 1)" font-size="13.4">-4</text>
<text transform="translate(114.99 271.25) scale(0.955 1)" font-size="18.4">10</text><text transform="translate(131.99 261.25) scale(0.88 1)" font-size="13.4">-3</text>
<text transform="translate(173.78 271.25) scale(0.955 1)" font-size="18.4">10</text><text transform="translate(190.78 261.25) scale(0.88 1)" font-size="13.4">-2</text>
<text transform="translate(232.57 271.25) scale(0.955 1)" font-size="18.4">10</text><text transform="translate(249.57 261.25) scale(0.88 1)" font-size="13.4">-1</text>
<text transform="translate(303.3 271.25) scale(0.955 1)" font-size="18.4">10</text><text transform="translate(320.3 261.25) scale(0.88 1)" font-size="13.4">-4</text>
<text transform="translate(362.09 271.25) scale(0.955 1)" font-size="18.4">10</text><text transform="translate(379.09 261.25) scale(0.88 1)" font-size="13.4">-3</text>
<text transform="translate(420.88 271.25) scale(0.955 1)" font-size="18.4">10</text><text transform="translate(437.88 261.25) scale(0.88 1)" font-size="13.4">-2</text>
<text transform="translate(479.67 271.25) scale(0.955 1)" font-size="18.4">10</text><text transform="translate(496.67 261.25) scale(0.88 1)" font-size="13.4">-1</text>
<text transform="translate(550.35 271.25) scale(0.955 1)" font-size="18.4">10</text><text transform="translate(567.35 261.25) scale(0.88 1)" font-size="13.4">-4</text>
<text transform="translate(609.14 271.25) scale(0.955 1)" font-size="18.4">10</text><text transform="translate(626.14 261.25) scale(0.88 1)" font-size="13.4">-3</text>
<text transform="translate(667.93 271.25) scale(0.955 1)" font-size="18.4">10</text><text transform="translate(684.93 261.25) scale(0.88 1)" font-size="13.4">-2</text>
<text transform="translate(726.72 271.25) scale(0.955 1)" font-size="18.4">10</text><text transform="translate(743.72 261.25) scale(0.88 1)" font-size="13.4">-1</text>
<text transform="translate(787.9 271.25) scale(0.955 1)" font-size="18.4">10</text><text transform="translate(804.9 261.25) scale(0.88 1)" font-size="13.4">0</text>
<text transform="translate(35.95 30.7) scale(0.955 1)" font-size="18.4">10</text><text transform="translate(52.95 20.7) scale(0.88 1)" font-size="13.4">-1</text>
<text transform="translate(806.6 30.7) scale(0.955 1)" font-size="18.4">10</text><text transform="translate(823.6 20.7) scale(0.88 1)" font-size="13.4">-1</text>
<text transform="translate(35.95 140.7) scale(0.955 1)" font-size="18.4">10</text><text transform="translate(52.95 130.7) scale(0.88 1)" font-size="13.4">-2</text>
<text transform="translate(806.6 140.7) scale(0.955 1)" font-size="18.4">10</text><text transform="translate(823.6 130.7) scale(0.88 1)" font-size="13.4">-2</text>
<text transform="translate(35.95 250.7) scale(0.955 1)" font-size="18.4">10</text><text transform="translate(52.95 240.7) scale(0.88 1)" font-size="13.4">-3</text>
<text transform="translate(806.6 250.7) scale(0.955 1)" font-size="18.4">10</text><text transform="translate(823.6 240.7) scale(0.88 1)" font-size="13.4">-3</text>
</g>
<text transform="translate(93.7 13.85) scale(1.024 1)" font-size="18.3">Perfectly known NME</text>
<text transform="translate(310.5 13.85) scale(1.024 1)" font-size="18.3">Factor 2 uncertainty from NME</text>
<text transform="translate(566.5 13.85) scale(1.024 1)" font-size="18.3">Factor 3 uncertainty from NME</text>
<text transform="translate(16,173.3) rotate(-90) scale(1.14 1)" font-size="20.3" stroke="#000" stroke-width="0.35">σ</text><text transform="translate(22.6,160.5) rotate(-90) scale(1.16 1)" font-size="14.8" stroke="#000" stroke-width="0.25">ββ</text><text transform="translate(16.6,133.6) rotate(-90) scale(1 1.07)" font-size="20.3">[eV]</text>
<text transform="translate(348.2 294.1) scale(0.993 1)" font-size="20.6" xml:space="preserve">observed |&lt;<tspan font-style="italic">m</tspan>&gt;|  [eV]</text>
<rect x="32.4" y="318.8" width="44.2" height="17.6" fill="#a0a0a0" stroke="#222" stroke-width="1.1"/>
<rect x="32.4" y="347.8" width="44.2" height="18.2" fill="#e0e0e0" stroke="#222" stroke-width="1.1"/>
<path d="M32.2 387.8 H76.8" stroke="#000" stroke-width="1.9" stroke-dasharray="8.4 5"/>
<text transform="translate(90.9 336.8) scale(0.996 1)" font-size="20.6">No information on the mass ordering</text>
<text transform="translate(90.9 366.4) scale(0.996 1)" font-size="20.6">Inverted ordering excluded at 2</text>
<text transform="translate(348.2 366.4) scale(1.2 1)" font-size="20.6" stroke="#000" stroke-width="0.2">σ</text>
<text transform="translate(90.9 395.65) scale(1.002 1)" font-size="20.6">To the right a signal is observed at 2</text>
<text transform="translate(389.7 395.65) scale(1.2 1)" font-size="20.6" stroke="#000" stroke-width="0.2">σ</text>
<clipPath id="lg"><rect x="420.5" y="318.8" width="44.6" height="17.6"/></clipPath>
<path d="M393.7 338 L416.1 317 M403.2 338 L425.6 317 M412.7 338 L435.1 317 M422.2 338 L444.6 317 M431.7 338 L454.1 317 M441.2 338 L463.6 317 M450.7 338 L473.1 317 M460.2 338 L482.6 317 M469.7 338 L492.1 317" stroke="#f00" stroke-width="1.15" stroke-opacity="0.85" clip-path="url(#lg)"/>
<rect x="421.2" y="318.9" width="43.2" height="17.1" fill="none" stroke="#f00" stroke-width="1.35"/>
<rect x="421.2" y="347.9" width="43.4" height="17.9" fill="#fff" stroke="#2a2a2a" stroke-width="1.4"/>
<path d="M421 387.6 H464.8" stroke="#00f" stroke-width="2.5"/>
<text transform="translate(479.5 336.8) scale(0.996 1)" font-size="20.6">Either IH or QD spectrum</text>
<text transform="translate(479.5 366.4) scale(0.996 1)" font-size="20.6">QD with no information on ordering</text>
<text transform="translate(479.5 395.65) scale(0.996 1)" font-size="20.6">To the right the NH spectrum is excluded</text>
<text transform="translate(32.7 441.9) scale(0.995 1)" font-size="20">sin</text>
<text transform="translate(56.3 429.3) scale(0.97 1)" font-size="14.4">2</text>
<text transform="translate(63.6 441.9) scale(1.22 1)" font-size="20">θ</text>
<text transform="translate(75.6 449.55) scale(0.87 1)" font-size="14.4">13</text>
<text transform="translate(93.8 441.9) scale(1.016 1)" font-size="20">= 0.03 ± 0.006,</text>
<text transform="translate(229.6 441.9) scale(0.995 1)" font-size="20">sin</text>
<text transform="translate(253 429.3) scale(0.97 1)" font-size="14.4">2</text>
<text transform="translate(260.5 441.9) scale(1.22 1)" font-size="20">θ</text>
<text transform="translate(272.4 449.55) scale(0.87 1)" font-size="14.4">12</text>
<text transform="translate(290.4 441.9) scale(1.004 1)" font-size="20">= 0.31 ± 3%,</text>
<text transform="translate(407.5 441.9) scale(1.016 1)" font-size="20">Δ</text>
<text transform="translate(420.6 441.9) scale(1.016 1)" font-size="20" font-style="italic">m</text>
<text transform="translate(434.5 429.3) scale(0.97 1)" font-size="14.4">2</text>
<text transform="translate(434.3 449.55) scale(0.95 1)" font-size="14.4">21</text>
<text transform="translate(453.4 441.9) scale(1.016 1)" font-size="20">=</text>
<text transform="translate(470.9 441.9) scale(1.016 1)" font-size="20">8x10</text>
<text transform="translate(512 429.3) scale(0.97 1)" font-size="14.4">-5</text>
<text transform="translate(528.3 441.9) scale(1.016 1)" font-size="20">± 2%,</text>
<text transform="translate(588.3 441.9) scale(1.016 1)" font-size="20">|Δ</text>
<text transform="translate(605.5 441.9) scale(1.016 1)" font-size="20" font-style="italic">m</text>
<text transform="translate(619.5 429.3) scale(0.97 1)" font-size="14.4">2</text>
<text transform="translate(619.8 449.55) scale(0.87 1)" font-size="14.4">31</text>
<text transform="translate(634 441.9) scale(1.016 1)" font-size="20">| = 2.2x10</text>
<text transform="translate(716.9 429.3) scale(0.97 1)" font-size="14.4">-3</text>
<text transform="translate(733.3 441.9) scale(1.016 1)" font-size="20">± 3%</text>
</svg>
</body></html>
